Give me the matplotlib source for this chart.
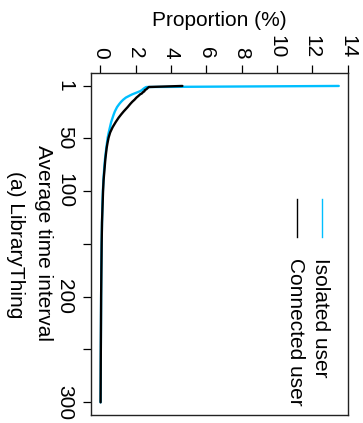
import matplotlib
matplotlib.use("Agg")
import matplotlib.pyplot as plt

# Average time interval between actions and share of users (%) at that interval
interval = [1, 2, 3, 4, 5, 6, 7, 8, 9, 10, 12, 14, 16, 18, 21, 25, 28, 31, 35,
            40, 45, 50, 55, 60, 70, 80, 90, 100, 115, 130, 150, 175, 200, 230,
            260, 300]
isolated = [13.5, 2.6, 2.5, 2.42, 2.35, 2.25, 2.1, 1.95, 1.8, 1.68, 1.45, 1.3,
            1.18, 1.08, 0.95, 0.83, 0.76, 0.7, 0.62, 0.55, 0.48, 0.42, 0.38,
            0.34, 0.27, 0.22, 0.18, 0.15, 0.12, 0.1, 0.08, 0.06, 0.05, 0.04,
            0.03, 0.02]
connected = [4.65, 2.75, 2.68, 2.62, 2.52, 2.5, 2.41, 2.36, 2.25, 2.19, 2.05,
             1.94, 1.81, 1.7, 1.55, 1.33, 1.18, 1.04, 0.88, 0.7, 0.56, 0.47,
             0.41, 0.36, 0.29, 0.24, 0.19, 0.16, 0.13, 0.1, 0.08, 0.065, 0.05,
             0.04, 0.03, 0.02]

prop_ticks = [0, 2, 4, 6, 8, 10, 12, 14]
interval_ticks = [1, 50, 100, 150, 200, 250, 300]
interval_labels = ["1", "50", "100", "", "200", "", "300"]

series_names = ["Isolated user", "Connected user"]
series_colors = ["#00BFFF", "#000000"]

plt.rcParams["font.family"] = ["Liberation Sans", "DejaVu Sans"]
FS = 15

W, H = 363, 423
fig = plt.figure(figsize=(W / 100, H / 100), dpi=100)

left, right, top, bottom = 90.7, 348.3, 73.3, 415.0
ax = fig.add_axes([left / W, (H - bottom) / H, (right - left) / W, (bottom - top) / H])

for vals, color in zip([isolated, connected], series_colors):
    ax.plot(vals, interval, color=color, lw=1.7, solid_capstyle="round",
            solid_joinstyle="round")

# 4% padding on each side of the data ranges
pmax = max(max(isolated), max(connected))
ax.set_xlim(-0.04 * pmax, pmax * 1.04)
span = interval[-1] - interval[0]
ax.set_ylim(interval[-1] + 0.04 * span, interval[0] - 0.04 * span)

ax.xaxis.tick_top()
ax.set_xticks(prop_ticks)
ax.set_xticklabels([str(t) for t in prop_ticks])
ax.set_yticks(interval_ticks)
ax.set_yticklabels(interval_labels)

ax.tick_params(axis="both", direction="out", length=5.8, width=0.9,
               labelsize=FS, colors="black")
ax.tick_params(axis="x", pad=5, labelrotation=270)
ax.tick_params(axis="y", pad=6, labelrotation=270)
for lab in ax.get_yticklabels():
    lab.set_va("center")
for lab in ax.get_xticklabels():
    lab.set_ha("center")

for sp in ax.spines.values():
    sp.set_linewidth(1.0)
    sp.set_color("#222222")

# axis titles
fig.text((left + right) / 2 / W, 1 - 21 / H, "Proportion (%)", fontsize=FS,
         ha="center", va="center")
fig.text(43 / W, 1 - 243 / H, "Average time interval", fontsize=FS,
         rotation=270, ha="center", va="center")
fig.text(15 / W, 1 - 245 / H, "(a) LibraryThing", fontsize=FS,
         rotation=270, ha="center", va="center")

# legend drawn with vertical key lines
key_x = [0.899, 0.80]
for name, color, kx in zip(series_names, series_colors, key_x):
    ax.plot([kx, kx], [1 - 0.368, 1 - 0.480], transform=ax.transAxes,
            color=color, lw=1.0)
    ax.text(kx - 0.006, 1 - 0.541, name, transform=ax.transAxes, fontsize=FS,
            rotation=270, ha="center", va="top")

fig.savefig("out.png", dpi=100)
